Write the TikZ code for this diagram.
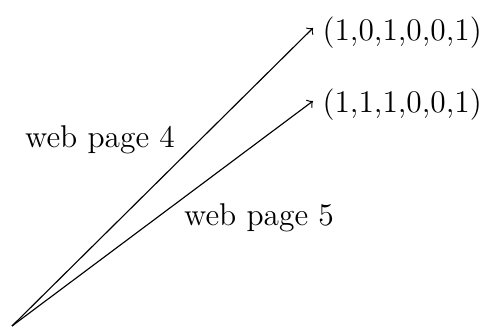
\documentclass[tikz,border=0pt]{standalone}
\begin{document}
\begin{tikzpicture}[x=0.3496pt,y=-0.3496pt,
  vec/.style={->,>=to,line width=0.4pt},
  lbl/.style={inner sep=0pt,font=\fontsize{11}{13}\selectfont}]
\useasboundingbox (0,0) rectangle (487,329);
\coordinate (o) at (12,326);
\coordinate (t1) at (313,28);
\coordinate (t2) at (313,101);
\node[lbl,anchor=west] (v1) at (322,33) {(1,0,1,0,0,1)};
\node[lbl,anchor=west] (v2) at (322,105) {(1,1,1,0,0,1)};
\node[lbl] (w4) at (100,140) {web page 4};
\node[lbl] (w5) at (259,218) {web page 5};
\draw[vec] (o) -- (t1);
\draw[vec] (o) -- (t2);
\end{tikzpicture}
\end{document}
